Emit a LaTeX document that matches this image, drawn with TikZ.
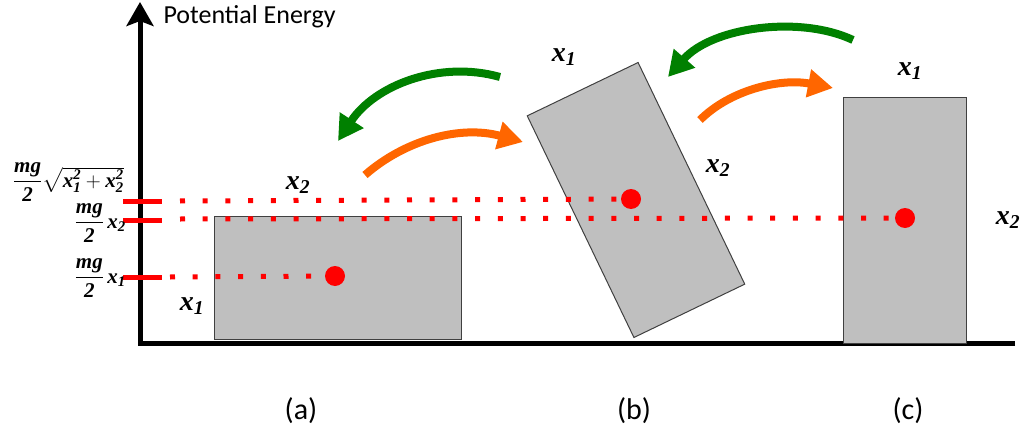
\documentclass[tikz,border=0pt]{standalone}
\usepackage{amsmath}
\usepackage{fontspec}
\setmainfont{Carlito}
\newfontfamily\lblfont{Liberation Serif}
\usetikzlibrary{arrows.meta}

\definecolor{risecol}{HTML}{FF6600}
\definecolor{fallcol}{HTML}{008000}
\definecolor{boxgray}{HTML}{BFBFBF}

\newcommand{\vx}[1]{\text{x}_{\text{#1}}}
\newcommand{\mgtwo}{\dfrac{\text{mg}}{\text{2}}}

\begin{document}
\begin{tikzpicture}[x=1pt, y=-1pt,
  axis/.style={line width=5pt, -{Stealth[length=24pt,width=27pt,inset=5pt]}},
  blk/.style={draw=black!75, fill=boxgray, line width=1pt, minimum width=247pt, minimum height=123pt, inner sep=0pt},
  cgdot/.style={circle, fill=red, minimum size=20pt, inner sep=0pt},
  level/.style={red, line width=5pt, dash pattern=on 5pt off 17.7pt},
  tickmark/.style={red, line width=5pt},
  lbl/.style={font=\lblfont\bfseries\itshape\fontsize{28}{32}\selectfont, inner sep=0pt},
  ylbl/.style={font=\lblfont\bfseries\itshape\fontsize{21}{25}\selectfont, inner sep=0pt},
  panel/.style={font=\fontsize{30}{34}\selectfont},
  backarr/.style={fallcol, line width=8pt, -{Triangle[length=25pt,width=27pt]}},
  tiparr/.style={risecol, line width=8pt, -{Triangle[length=25pt,width=27pt]}}
]
\useasboundingbox (0,0) rectangle (1026,436);

% axes
\coordinate (origin) at (140,343);
\coordinate (xend) at (1015,343);
\coordinate (ytip) at (140,2);
\draw[axis] (xend) -- (origin) -- (ytip);
\node[anchor=west, font=\fontsize{26}{30}\selectfont] (ylabel) at (160,17) {Potential Energy};

% the three positions of the block
\node[blk] (boxa) at (337.5,277.5) {};
\node[blk, minimum width=123pt, minimum height=246pt, rotate=25.7] (boxb) at (636,200) {};
\node[blk, minimum width=123pt, minimum height=245pt] (boxc) at (904.5,220.5) {};

% energy levels
\coordinate (ta0) at (123,277); \coordinate (ta1) at (162,277);
\coordinate (tb0) at (123,201); \coordinate (tb1) at (162,201);
\coordinate (tc0) at (123,220); \coordinate (tc1) at (162,220);
\draw[tickmark] (ta0) -- (ta1);
\draw[tickmark] (tb0) -- (tb1);
\draw[tickmark] (tc0) -- (tc1);

\node[cgdot] (cga) at (335,276) {};
\node[cgdot] (cgb) at (631,199) {};
\node[cgdot] (cgc) at (905,218) {};

\coordinate (la) at (170,277);
\coordinate (lb) at (180,201);
\coordinate (lc) at (180,219);
\draw[level] (la) -- (cga);
\draw[level] (lb) -- (cgb);
\draw[level] (lc) -- (cgc);

% side labels
\node[lbl] (a2) at (298,185) {$\vx{2}$};
\node[lbl] (a1) at (192,306) {$\vx{1}$};
\node[lbl] (b1) at (564,57) {$\vx{1}$};
\node[lbl] (b2) at (718,168) {$\vx{2}$};
\node[lbl] (c1) at (910,71) {$\vx{1}$};
\node[lbl] (c2) at (1008,220) {$\vx{2}$};

% energy values
\node[ylbl, anchor=base east] (eb) at (124,187) {$\mgtwo\sqrt{\vx{1}^{\text{2}}+\vx{2}^{\text{2}}}$};
\node[ylbl, anchor=base east] (ec) at (126,228) {$\mgtwo\,\vx{2}$};
\node[ylbl, anchor=base east] (ea) at (126,283) {$\mgtwo\,\vx{1}$};

% rotation arrows
\coordinate (g1s) at (500,77);  \coordinate (g1e) at (338,141);
\coordinate (o1s) at (365,175); \coordinate (o1e) at (523,142);
\coordinate (g2s) at (853,40);  \coordinate (g2e) at (668,77);
\coordinate (o2s) at (700,120); \coordinate (o2e) at (833,88);
\draw[backarr] (g1s) .. controls (440,60) and (375,85) .. (g1e);
\draw[tiparr] (o1s) .. controls (405,140) and (460,125) .. (o1e);
\draw[backarr] (g2s) .. controls (800,15) and (712,27) .. (g2e);
\draw[tiparr] (o2s) .. controls (730,90) and (780,78) .. (o2e);

% captions
\node[panel] (pa) at (301,411) {(a)};
\node[panel] (pb) at (634,411) {(b)};
\node[panel] (pc) at (908,411) {(c)};
\end{tikzpicture}
\end{document}
